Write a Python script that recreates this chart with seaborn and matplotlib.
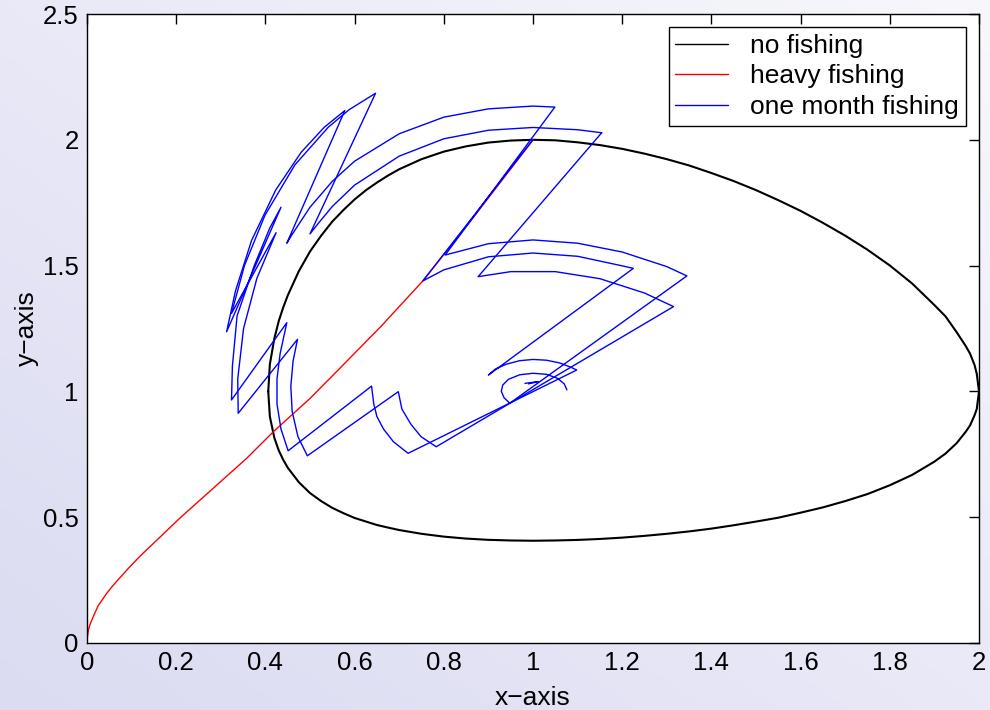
import numpy as np
import pandas as pd
import seaborn as sns
import matplotlib.pyplot as plt
from matplotlib.lines import Line2D

# no fishing: closed orbit through (1, 2)
black_x = [0.4064, 0.41, 0.42, 0.43, 0.44, 0.45, 0.475, 0.5, 0.525, 0.55, 0.575, 0.6, 0.625, 0.65,
           0.675, 0.7, 0.75, 0.8, 0.85, 0.9, 0.95, 1.0, 1.05, 1.1, 1.15, 1.2, 1.25, 1.3, 1.35, 1.4,
           1.45, 1.5, 1.55, 1.6, 1.65, 1.7, 1.75, 1.8, 1.85, 1.9, 1.925, 1.95, 1.97, 1.98, 1.99,
           1.995, 2.0, 1.995, 1.99, 1.98, 1.97, 1.95, 1.925, 1.9, 1.85, 1.8, 1.75, 1.7, 1.65, 1.6,
           1.55, 1.5, 1.45, 1.4, 1.35, 1.3, 1.25, 1.2, 1.15, 1.1, 1.05, 1.0, 0.95, 0.9, 0.85, 0.8,
           0.75, 0.7, 0.675, 0.65, 0.625, 0.6, 0.575, 0.55, 0.525, 0.5, 0.475, 0.45, 0.44, 0.43,
           0.42, 0.41, 0.4064]
black_y = [1.0, 1.108, 1.21, 1.28, 1.334, 1.381, 1.478, 1.556, 1.619, 1.675, 1.721, 1.763, 1.799,
           1.830, 1.858, 1.883, 1.923, 1.953, 1.974, 1.989, 1.997, 2.0, 1.998, 1.990, 1.979, 1.964,
           1.945, 1.923, 1.898, 1.868, 1.836, 1.800, 1.760, 1.7175, 1.670, 1.619, 1.563, 1.5005,
           1.429, 1.343, 1.298, 1.235, 1.181, 1.15, 1.105, 1.07, 1.0, 0.93, 0.905, 0.865, 0.839,
           0.7945, 0.753, 0.7208, 0.668, 0.627, 0.592, 0.564, 0.539, 0.518, 0.498, 0.4826, 0.468,
           0.4546, 0.4435, 0.434, 0.4258, 0.4188, 0.4135, 0.4097, 0.4075, 0.4064, 0.4075, 0.41,
           0.415, 0.4228, 0.434, 0.449, 0.4587, 0.469, 0.483, 0.497, 0.516, 0.537, 0.564, 0.596,
           0.639, 0.697, 0.728, 0.765, 0.816, 0.90, 1.0]

# heavy fishing
red_x = [0.0, 0.001, 0.003, 0.006, 0.014, 0.025, 0.044, 0.058, 0.07, 0.096, 0.12, 0.149, 0.208,
         0.283, 0.358, 0.418, 0.5, 0.567, 0.66, 0.753, 0.87, 1.0]
red_y = [0.0, 0.025, 0.05, 0.07, 0.105, 0.148, 0.197, 0.228, 0.252, 0.303, 0.347, 0.396, 0.496,
         0.615, 0.734, 0.840, 0.972, 1.092, 1.26, 1.439, 1.70, 2.0]

# one month fishing, first chain (starts at (1, 2))
blue_a_x = [1.0, 0.753, 0.8, 0.9, 1.0, 1.1, 1.2, 1.225,
            0.900, 0.915, 0.94, 0.97, 1.0, 1.03, 1.06, 1.085, 1.098,
            0.720, 0.687, 0.665, 0.650, 0.643, 0.638,
            0.451, 0.435, 0.426, 0.426, 0.433, 0.448,
            0.324, 0.326, 0.3365, 0.375, 0.41, 0.435,
            0.313, 0.333, 0.369, 0.423, 0.48, 0.532, 0.578,
            0.448, 0.46, 0.5, 0.55, 0.6, 0.7, 0.8, 0.9, 1.0, 1.049,
            0.803, 0.9, 1.0, 1.1, 1.2, 1.3, 1.345,
            0.948, 0.935, 0.929, 0.932, 0.945, 0.97, 1.0, 1.03, 1.055, 1.07, 1.076]
blue_a_y = [2.0, 1.439, 1.483, 1.535, 1.550, 1.537, 1.499, 1.489,
            1.065, 1.088, 1.108, 1.122, 1.127, 1.124, 1.113, 1.096, 1.085,
            0.754, 0.80, 0.85, 0.90, 0.95, 1.021,
            0.764, 0.85, 0.95, 1.05, 1.15, 1.273,
            0.966, 1.1, 1.3, 1.5, 1.65, 1.732,
            1.237, 1.4, 1.6, 1.8, 1.95, 2.05, 2.116,
            1.589, 1.624, 1.732, 1.835, 1.915, 2.024, 2.09, 2.123, 2.134, 2.130,
            1.542, 1.587, 1.602, 1.589, 1.554, 1.496, 1.459,
            0.953, 0.975, 1.0, 1.025, 1.048, 1.066, 1.072, 1.068, 1.052, 1.03, 1.006]

# one month fishing, second chain
blue_b_x = [1.154, 0.877, 0.95, 1.05, 1.15, 1.25, 1.315,
            0.783, 0.749, 0.726, 0.706, 0.698,
            0.494, 0.473, 0.46, 0.457, 0.462, 0.472,
            0.339, 0.338, 0.351, 0.381, 0.424,
            0.324, 0.353, 0.399, 0.466, 0.541, 0.588, 0.647,
            0.5, 0.52, 0.55, 0.6, 0.7, 0.8, 0.9, 1.0, 1.1, 1.154]
blue_b_y = [2.028, 1.456, 1.476, 1.476, 1.448, 1.391, 1.337,
            0.780, 0.82, 0.87, 0.93, 0.999,
            0.744, 0.82, 0.92, 1.02, 1.12, 1.207,
            0.913, 1.05, 1.25, 1.45, 1.631,
            1.310, 1.5, 1.7, 1.9, 2.05, 2.12, 2.185,
            1.626, 1.671, 1.735, 1.82, 1.935, 2.004, 2.038, 2.049, 2.040, 2.028]

# small kink near the centre
blue_z_x = [0.982, 1.012, 0.99]
blue_z_y = [1.032, 1.039, 1.030]

blue = pd.concat([
    pd.DataFrame({"x": blue_a_x, "y": blue_a_y, "piece": "a"}),
    pd.DataFrame({"x": blue_b_x, "y": blue_b_y, "piece": "b"}),
    pd.DataFrame({"x": blue_z_x, "y": blue_z_y, "piece": "z"}),
], ignore_index=True)

sns.set_style("white")
plt.rcParams['font.family'] = ['Liberation Sans', 'DejaVu Sans']
plt.rcParams.update({'text.color': 'black', 'axes.labelcolor': 'black',
                     'xtick.color': 'black', 'ytick.color': 'black'})

fig = plt.figure(figsize=(9.9, 7.1), dpi=100)

# lavender gradient background
bg = fig.add_axes([0, 0, 1, 1], zorder=-10)
g = np.linspace(0, 1, 256)
gx, gy = np.meshgrid(g, g)
t = ((gx + (1 - gy)) / 2)[..., None]
dark = np.array([219, 219, 242]) / 255
light = np.array([247, 247, 252]) / 255
bg.imshow(dark + (light - dark) * t, aspect='auto', extent=[0, 1, 0, 1], origin='upper')
bg.set_axis_off()

ax = fig.add_axes([87 / 990, 67 / 710, 892 / 990, 629 / 710])
ax.set_facecolor('white')

sns.lineplot(x=black_x, y=black_y, sort=False, estimator=None, color='black', lw=1.5, ax=ax)
sns.lineplot(x=red_x, y=red_y, sort=False, estimator=None, color='red', lw=1.0, ax=ax)
sns.lineplot(data=blue, x='x', y='y', units='piece', sort=False, estimator=None,
             color='blue', lw=1.0, ax=ax)

ax.set_xlim(0, 2)
ax.set_ylim(0, 2.5)
ax.set_xticks(np.arange(0, 2.01, 0.2))
ax.set_xticklabels(['0', '0.2', '0.4', '0.6', '0.8', '1', '1.2', '1.4', '1.6', '1.8', '2'])
ax.set_yticks([0, 0.5, 1, 1.5, 2, 2.5])
ax.set_yticklabels(['0', '0.5', '1', '1.5', '2', '2.5'])
ax.tick_params(direction='in', length=7, width=1, top=True, right=True,
               labelsize=18.5, pad=6, colors='black')
for s in ax.spines.values():
    s.set_visible(True)
    s.set_color('black')
    s.set_linewidth(1.0)

ax.set_xlabel('x\u2212axis', fontsize=19, labelpad=8)
ax.set_ylabel('y\u2212axis', fontsize=19, labelpad=3)

handles = [Line2D([], [], color='black', lw=1), Line2D([], [], color='red', lw=1),
           Line2D([], [], color='blue', lw=1)]
leg = ax.legend(handles, ['no fishing', 'heavy fishing', 'one month fishing'],
                loc='upper right', fontsize=19, frameon=True, fancybox=False,
                edgecolor='black', framealpha=1, borderaxespad=0.5,
                handlelength=2.0, handletextpad=0.85, borderpad=0.25, labelspacing=0.25)
leg.get_frame().set_linewidth(1.0)

fig.savefig('out.png', dpi=100)
